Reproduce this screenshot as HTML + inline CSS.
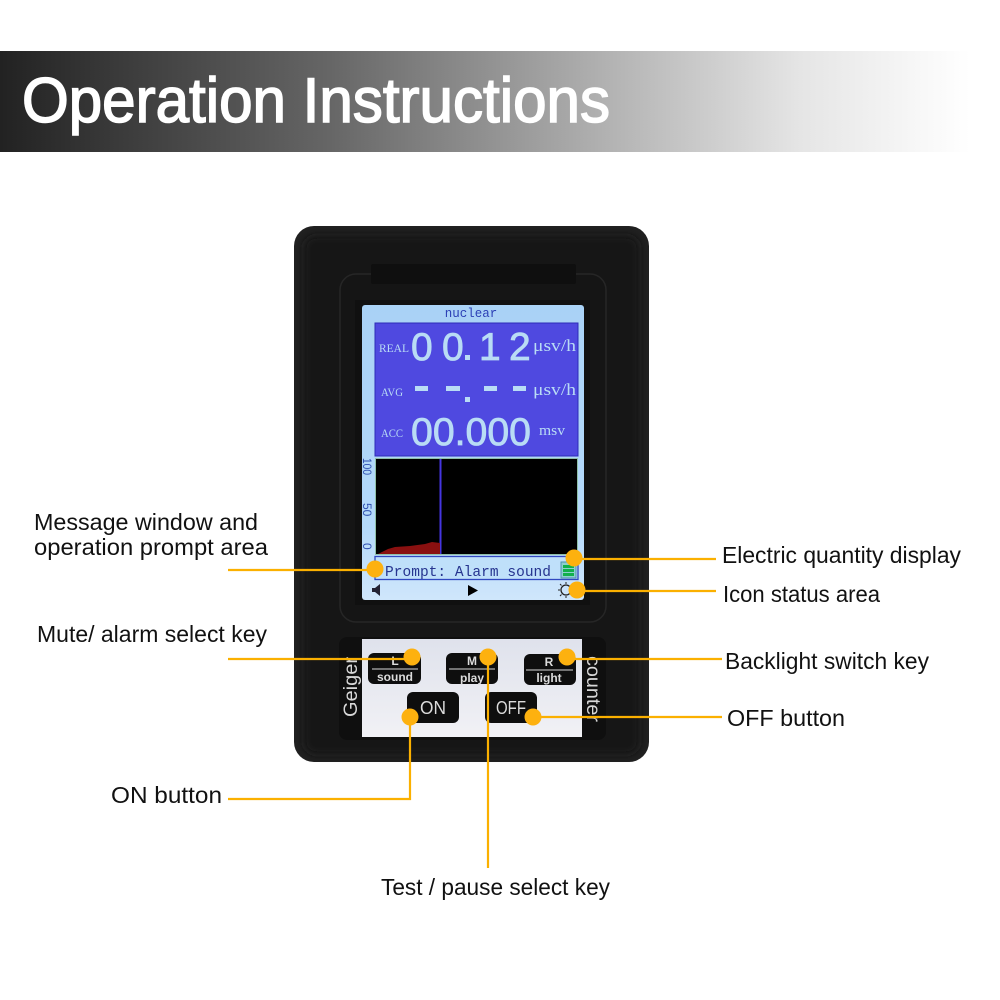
<!DOCTYPE html>
<html><head><meta charset="utf-8"><style>html,body{margin:0;padding:0;background:#fff}svg{display:block}</style></head><body>
<svg xmlns="http://www.w3.org/2000/svg" width="1000" height="1000" viewBox="0 0 1000 1000" font-family="'Liberation Sans',sans-serif">
<defs>
<linearGradient id="hdr" x1="0" x2="1" y1="0" y2="0">
<stop offset="0" stop-color="#222"/><stop offset="0.33" stop-color="#666"/><stop offset="0.6" stop-color="#b0b0b0"/><stop offset="0.8" stop-color="#e5e5e5"/><stop offset="0.97" stop-color="#fff"/>
</linearGradient>
<linearGradient id="scr" x1="0" x2="0" y1="0" y2="1">
<stop offset="0" stop-color="#a9d2f6"/><stop offset="0.75" stop-color="#b4d9fa"/><stop offset="1" stop-color="#cfe6fb"/>
</linearGradient>
<linearGradient id="keys" x1="0" x2="0" y1="0" y2="1">
<stop offset="0" stop-color="#dfe2ec"/><stop offset="1" stop-color="#f1f1f5"/>
</linearGradient>
<filter id="soft" x="-10%" y="-10%" width="120%" height="120%"><feGaussianBlur stdDeviation="4"/></filter>
</defs>
<rect width="1000" height="1000" fill="#fff"/>
<rect x="0" y="51" width="1000" height="101" fill="url(#hdr)"/>
<text transform="translate(22,122) scale(1,1.1)" font-size="57" fill="#fff" stroke="#fff" stroke-width="1.400" textLength="588" lengthAdjust="spacingAndGlyphs">Operation Instructions</text>

<!-- device -->
<rect x="294" y="226" width="355" height="536" rx="20" fill="#202020"/>
<rect x="304" y="236" width="335" height="518" rx="12" fill="#141414" filter="url(#soft)"/>
<rect x="340" y="274" width="266" height="348" rx="16" fill="#151515" stroke="#262626" stroke-width="1.500"/>
<rect x="371" y="264" width="205" height="20" rx="2" fill="#0f0f0f"/>
<rect x="355" y="300" width="235" height="305" fill="#101010"/>

<!-- screen -->
<rect x="362" y="305" width="222" height="295" rx="3" fill="url(#scr)"/>
<text x="471" y="317" font-family="'Liberation Mono',monospace" font-size="12.500" fill="#2b3fb5" text-anchor="middle">nuclear</text>
<rect x="375" y="323" width="203" height="133" fill="#4f49e0" stroke="#2e2cb8" stroke-width="1"/>
<g fill="#b9dcf5">
<g font-family="'Liberation Serif',serif" font-size="12">
<text x="379" y="352" textLength="30" lengthAdjust="spacingAndGlyphs">REAL</text>
<text x="381" y="396" textLength="22" lengthAdjust="spacingAndGlyphs">AVG</text>
<text x="381" y="437" textLength="22" lengthAdjust="spacingAndGlyphs">ACC</text>
</g>
<g font-family="'Liberation Serif',serif" font-size="17">
<text x="533" y="351" textLength="43" lengthAdjust="spacingAndGlyphs">μsv/h</text>
<text x="533" y="395" textLength="43" lengthAdjust="spacingAndGlyphs">μsv/h</text>
<text x="539" y="435" font-size="15" textLength="26" lengthAdjust="spacingAndGlyphs">msv</text>
</g>
<g font-size="39" stroke="#b9dcf5" stroke-width="0.800">
<text x="411" y="360">0</text>
<text x="442" y="360">0</text>
<text x="479" y="360">1</text>
<text x="509" y="360">2</text>
<text x="411" y="445" textLength="120" lengthAdjust="spacingAndGlyphs">00.000</text>
</g>
<rect x="465" y="355" width="5" height="5"/>
<rect x="415" y="386" width="13" height="5"/>
<rect x="446" y="386" width="14" height="5"/>
<rect x="484" y="386" width="13" height="5"/>
<rect x="513" y="386" width="13" height="5"/>
<rect x="465" y="397" width="5" height="5"/>
</g>

<!-- graph -->
<rect x="375.500" y="458.500" width="202" height="96" fill="#000" stroke="#8fc0a8" stroke-width="1"/>
<rect x="439.500" y="459" width="2" height="95" fill="#4535e0"/>
<path d="M378 554L388 549L395 547L410 546L425 544L432 542L440 543V554Z" fill="#8a1010"/>
<g font-size="12" fill="#2f4fb0">
<text transform="translate(363,458) rotate(90)" textLength="17" lengthAdjust="spacingAndGlyphs">100</text>
<text transform="translate(363,503) rotate(90)">50</text>
<text transform="translate(363,543) rotate(90)">0</text>
</g>
<rect x="375" y="556.500" width="203" height="23" fill="#bfe0fa" stroke="#3048c0" stroke-width="1.300"/>
<text x="385" y="576" font-family="'Liberation Mono',monospace" font-size="14.500" fill="#26348f" textLength="166" lengthAdjust="spacing">Prompt: Alarm sound</text>
<rect x="561" y="562" width="15" height="16" fill="#8ecfd0" stroke="#4c8fb0"/>
<rect x="563" y="565" width="11" height="3" fill="#12b04c"/>
<rect x="563" y="569" width="11" height="3" fill="#12b04c"/>
<rect x="563" y="573" width="11" height="3" fill="#12b04c"/>
<path d="M372 588h3l5-4v12l-5-4h-3z" fill="#223"/>
<path d="M468 585L478 590.500L468 596Z" fill="#000"/>
<circle cx="566" cy="590" r="5" fill="none" stroke="#222" stroke-width="1.300"/>
<path d="M566 582v2M566 596v2M558 590h2M572 590h2M560 584l1.500 1.500M560 596l1.500-1.500" stroke="#222"/>

<!-- key panel -->
<rect x="339" y="637" width="267" height="103" rx="8" fill="#0f0f0f"/>
<rect x="362" y="639" width="220" height="98" fill="url(#keys)"/>
<g fill="#0e0e0e">
<rect x="368" y="653" width="53" height="31" rx="6"/>
<rect x="446" y="653" width="52" height="31" rx="6"/>
<rect x="524" y="654" width="52" height="31" rx="6"/>
<rect x="407" y="692" width="52" height="31" rx="6"/>
<rect x="485" y="692" width="52" height="31" rx="6"/>
</g>
<g stroke="#d8d8d8" stroke-width="1">
<line x1="372" y1="669" x2="418" y2="669"/>
<line x1="449" y1="669" x2="495" y2="669"/>
<line x1="526" y1="670" x2="573" y2="670"/>
</g>
<g fill="#dcdcdc" font-weight="bold" font-size="12" text-anchor="middle">
<text x="395" y="665">L</text><text x="472" y="665">M</text><text x="549" y="666">R</text>
<text x="395" y="681">sound</text><text x="472" y="682">play</text><text x="549" y="682">light</text>
</g>
<g fill="#dcdcdc" font-size="18">
<text x="420" y="714" textLength="26" lengthAdjust="spacingAndGlyphs">ON</text><text x="496" y="714" textLength="30" lengthAdjust="spacingAndGlyphs">OFF</text>
</g>
<g fill="#d8d8d8" font-size="19">
<text transform="translate(357,717) rotate(-90)" textLength="60" lengthAdjust="spacingAndGlyphs">Geiger</text>
<text transform="translate(587,656) rotate(90)" textLength="66" lengthAdjust="spacingAndGlyphs">counter</text>
</g>

<!-- callouts -->
<g stroke="#fbb000" stroke-width="2.200" fill="none">
<line x1="228" y1="570" x2="375" y2="570"/>
<line x1="228" y1="659" x2="412" y2="659"/>
<line x1="574" y1="559" x2="716" y2="559"/>
<line x1="577" y1="591" x2="716" y2="591"/>
<line x1="567" y1="659" x2="722" y2="659"/>
<line x1="533" y1="717" x2="722" y2="717"/>
<polyline points="228,799 410,799 410,717"/>
<line x1="488" y1="657" x2="488" y2="868"/>
</g>
<g fill="#fdb10f">
<circle cx="375" cy="569" r="8.500"/>
<circle cx="574" cy="558" r="8.500"/>
<circle cx="577" cy="590" r="8.500"/>
<circle cx="412" cy="657" r="8.500"/>
<circle cx="488" cy="657" r="8.500"/>
<circle cx="567" cy="657" r="8.500"/>
<circle cx="410" cy="717" r="8.500"/>
<circle cx="533" cy="717" r="8.500"/>
</g>
<g font-size="23" fill="#111">
<text x="34" y="530" textLength="224" lengthAdjust="spacingAndGlyphs">Message window and</text>
<text x="34" y="555" textLength="234" lengthAdjust="spacingAndGlyphs">operation prompt area</text>
<text x="37" y="642" textLength="230" lengthAdjust="spacingAndGlyphs">Mute/ alarm select key</text>
<text x="111" y="803" textLength="111" lengthAdjust="spacingAndGlyphs">ON button</text>
<text x="381" y="895" textLength="229" lengthAdjust="spacingAndGlyphs">Test / pause select key</text>
<text x="722" y="563" textLength="239" lengthAdjust="spacingAndGlyphs">Electric quantity display</text>
<text x="723" y="602" textLength="157" lengthAdjust="spacingAndGlyphs">Icon status area</text>
<text x="725" y="669" textLength="204" lengthAdjust="spacingAndGlyphs">Backlight switch key</text>
<text x="727" y="726" textLength="118" lengthAdjust="spacingAndGlyphs">OFF button</text>
</g>
</svg>
</body></html>
